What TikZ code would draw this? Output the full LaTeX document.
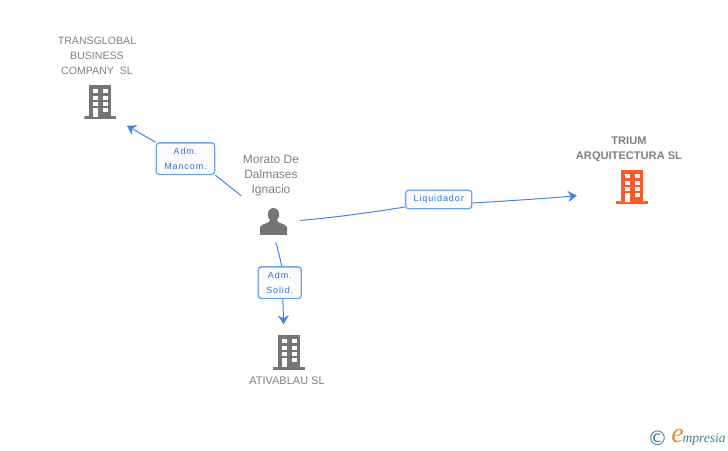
\documentclass[tikz,border=0pt]{standalone}
\usepackage{fontspec}
\usetikzlibrary{arrows.meta}
\setmainfont{Liberation Sans}
\newfontfamily\lblfont[LetterSpace=10]{Liberation Sans}
\newfontfamily\logofont{Liberation Serif}
\newfontfamily\symfont{DejaVu Sans}
\definecolor{icongray}{HTML}{757575}
\definecolor{textgray}{HTML}{808080}
\definecolor{triumorange}{HTML}{FF5A2B}
\definecolor{logoorange}{HTML}{F0862A}
\definecolor{linkblue}{HTML}{4485E3}
\definecolor{boxblue}{HTML}{6FA3EA}
\definecolor{boxfill}{HTML}{FBFBFD}
\definecolor{lbltext}{HTML}{2F72DC}
\definecolor{logoteal}{HTML}{3F8199}
\tikzset{
  caption/.style={text=textgray, align=center, inner sep=0pt, font=\fontsize{10.6}{15}\selectfont},
  lblbox/.style={draw=boxblue, line width=1.3pt, rounded corners=3pt, fill=boxfill, text=lbltext,
    align=center, inner xsep=8pt, inner ysep=5pt, font=\lblfont\fontsize{9}{15}\selectfont},
  link/.style={draw=linkblue, line width=1pt},
  linkto/.style={link, -{Stealth[length=9pt,width=11pt]}},
  building/.style={minimum width=32pt, minimum height=35pt, inner sep=0pt, path picture={
    \begin{scope}[shift={(path picture bounding box.center)}]
      \fill[#1] (-11,17) rectangle (11,-15);
      \fill[#1] (-16,-14.5) rectangle (16,-17.5);
      \foreach \wy in {13,6,0}
        \fill[white] (-7.3,\wy) rectangle (-2.3,\wy-4.3);
      \foreach \wy in {13,6,0,-6}
        \fill[white] (2.7,\wy) rectangle (7.7,\wy-4.3);
      \fill[white] (-7.3,-6) rectangle (-2.3,-15);
    \end{scope}}},
  person/.style={minimum width=28pt, minimum height=27pt, inner sep=0pt, path picture={
    \begin{scope}[shift={(path picture bounding box.center)}]
      \fill[#1] (0,7) ellipse (5.7 and 6.5);
      \fill[#1] (-13.5,-13.5) -- (-13.5,-6) .. controls (-13,-3) and (-8,-2.5) .. (-4.5,-0.5)
        -- (-3.5,2) -- (3.5,2) -- (4.5,-0.5) .. controls (8,-2.5) and (13,-3) .. (13.5,-6) -- (13.5,-13.5) -- cycle;
    \end{scope}}}
}
\begin{document}
\begin{tikzpicture}[x=1pt,y=1pt]
	\useasboundingbox (0,0) rectangle (728,450);
	% entities
	\node [person=icongray] (morato) at (273.5,228.5) {};
	\node [building=icongray] (transglobal) at (100.3,348) {};
	\node [building=triumorange] (trium) at (632,263) {};
	\node [building=icongray] (ativablau) at (289,98) {};
	% captions
	\node [caption, font=\fontsize{12}{15}\selectfont] (moratotxt) at (271,274) {Morato De\\Dalmases\\Ignacio};
	\node [caption] (transglobaltxt) at (97,394) {TRANSGLOBAL\\BUSINESS\\COMPANY\ \ SL};
	\node [caption, font=\bfseries\fontsize{11.1}{15}\selectfont] (triumtxt) at (629,301) {TRIUM\\ARQUITECTURA SL};
	\node [caption, font=\fontsize{11}{15}\selectfont] (ativablautxt) at (287,69) {ATIVABLAU SL};
	% role boxes
	\node [lblbox] (mancom) at (185.5,291.3) {Adm.\\Mancom.};
	\node [lblbox] (liquidador) at (438.7,250.5) {Liquidador};
	\node [lblbox] (solid) at (279.8,167.3) {Adm.\\Solid.};
	% connectors
	\draw [link, shorten <=23pt] (morato) -- (mancom.south east);
	\draw [linkto, shorten >=12pt] (mancom.north west) -- (transglobal.south east);
	\draw [link, shorten <=12.5pt] (morato.east) to [bend right=2] ([yshift=-7.5pt]liquidador.west);
	\draw [linkto, shorten >=39pt] ([yshift=-3.5pt]liquidador.east) to [bend right=1] ([yshift=-5pt]trium.west);
	\draw [link, shorten <=8pt] (morato.south) to [out=-72, in=103] ([xshift=2pt]solid.north);
	\draw [linkto, shorten >=10pt] ([xshift=3pt]solid.south) -- ([xshift=-5pt]ativablau.north);
	% logo
	\node [text=logoteal, inner sep=0pt, font=\symfont\fontsize{20}{20}\selectfont] (copyr) at (657.7,12) {©};
	\node [text=logoorange, inner sep=0pt, font=\logofont\itshape\fontsize{28}{28}\selectfont] (logoe) at (677.5,14) {e};
	\node [text=logoteal, anchor=base west, inner sep=0pt, font=\logofont\itshape\fontsize{13.5}{14}\selectfont] (logotxt) at (682.5,8) {mpresia};
\end{tikzpicture}
\end{document}
